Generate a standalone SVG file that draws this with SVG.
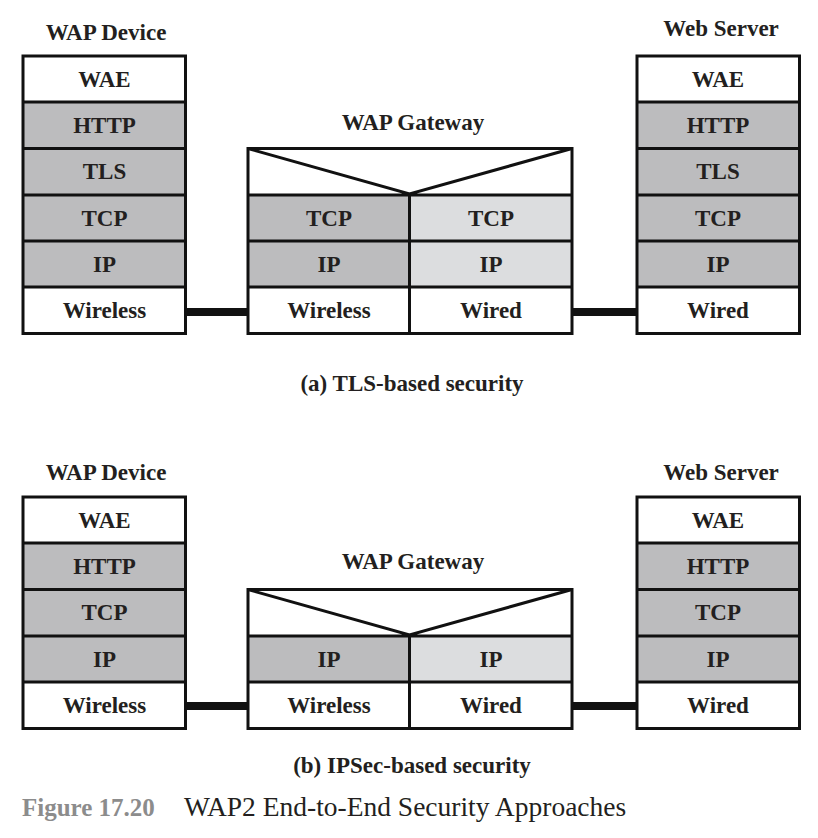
<svg xmlns="http://www.w3.org/2000/svg" width="818" height="838" viewBox="0 0 818 838">
<style>
.t{font-family:"Liberation Serif","Times New Roman",serif;font-weight:bold;font-size:23px;fill:#231f20;text-anchor:middle}
.dk{fill:#bcbcbe}
.lt{fill:#dcdddf}
.wh{fill:#ffffff}
.ln{stroke:#111;stroke-width:3;fill:none}
.cn{stroke:#111;stroke-width:8}
</style>
<rect width="818" height="838" fill="#fff"/>

<!-- (a) -->
<g id="a-device">
<text class="t" x="106" y="40">WAP Device</text>
<rect class="wh" x="23" y="56" width="162.5" height="46"/>
<rect class="dk" x="23" y="102" width="162.5" height="185"/>
<rect class="wh" x="23" y="287" width="162.5" height="46.5"/>
<rect class="ln" x="23" y="56" width="162.5" height="277.5"/>
<path class="ln" d="M23 102H185.5M23 148.5H185.5M23 195H185.5M23 241H185.5M23 287H185.5"/>
<text class="t" x="104.5" y="86.5">WAE</text>
<text class="t" x="104.5" y="133">HTTP</text>
<text class="t" x="104.5" y="179">TLS</text>
<text class="t" x="104.5" y="225.5">TCP</text>
<text class="t" x="104.5" y="271.5">IP</text>
<text class="t" x="104.5" y="318">Wireless</text>
</g>

<g id="a-gateway">
<text class="t" x="413" y="130">WAP Gateway</text>
<rect class="wh" x="248" y="148.5" width="324" height="46.5"/>
<rect class="dk" x="248" y="195" width="161.5" height="92"/>
<rect class="lt" x="409.5" y="195" width="162.5" height="92"/>
<rect class="wh" x="248" y="287" width="324" height="46.5"/>
<rect class="ln" x="248" y="148.5" width="324" height="185"/>
<path class="ln" d="M248 195H572M248 241H572M248 287H572M409.5 195V333.5M248 148.5L409.5 194L572 148.5"/>
<text class="t" x="329" y="225.5">TCP</text>
<text class="t" x="491" y="225.5">TCP</text>
<text class="t" x="329" y="271.5">IP</text>
<text class="t" x="491" y="271.5">IP</text>
<text class="t" x="329" y="318">Wireless</text>
<text class="t" x="491" y="318">Wired</text>
</g>

<g id="a-server">
<text class="t" x="721" y="36">Web Server</text>
<rect class="wh" x="637" y="56" width="162.5" height="46"/>
<rect class="dk" x="637" y="102" width="162.5" height="185"/>
<rect class="wh" x="637" y="287" width="162.5" height="46.5"/>
<rect class="ln" x="637" y="56" width="162.5" height="277.5"/>
<path class="ln" d="M637 102H799.5M637 148.5H799.5M637 195H799.5M637 241H799.5M637 287H799.5"/>
<text class="t" x="718" y="86.5">WAE</text>
<text class="t" x="718" y="133">HTTP</text>
<text class="t" x="718" y="179">TLS</text>
<text class="t" x="718" y="225.5">TCP</text>
<text class="t" x="718" y="271.5">IP</text>
<text class="t" x="718" y="318">Wired</text>
</g>

<text class="t" x="412" y="391">(a) TLS-based security</text>

<!-- (b) -->
<g id="b-device">
<text class="t" x="106" y="480">WAP Device</text>
<rect class="wh" x="23" y="497" width="162.5" height="46"/>
<rect class="dk" x="23" y="543" width="162.5" height="139"/>
<rect class="wh" x="23" y="682" width="162.5" height="46.5"/>
<rect class="ln" x="23" y="497" width="162.5" height="231.5"/>
<path class="ln" d="M23 543H185.5M23 589.5H185.5M23 636H185.5M23 682H185.5"/>
<text class="t" x="104.5" y="527.5">WAE</text>
<text class="t" x="104.5" y="574">HTTP</text>
<text class="t" x="104.5" y="620">TCP</text>
<text class="t" x="104.5" y="666.5">IP</text>
<text class="t" x="104.5" y="713">Wireless</text>
</g>

<g id="b-gateway">
<text class="t" x="413" y="569">WAP Gateway</text>
<rect class="wh" x="248" y="589.5" width="324" height="46.5"/>
<rect class="dk" x="248" y="636" width="161.5" height="46"/>
<rect class="lt" x="409.5" y="636" width="162.5" height="46"/>
<rect class="wh" x="248" y="682" width="324" height="46.5"/>
<rect class="ln" x="248" y="589.5" width="324" height="139"/>
<path class="ln" d="M248 636H572M248 682H572M409.5 636V728.5M248 589.5L409.5 635L572 589.5"/>
<text class="t" x="329" y="666.5">IP</text>
<text class="t" x="491" y="666.5">IP</text>
<text class="t" x="329" y="713">Wireless</text>
<text class="t" x="491" y="713">Wired</text>
</g>

<g id="b-server">
<text class="t" x="721" y="480">Web Server</text>
<rect class="wh" x="637" y="497" width="162.5" height="46"/>
<rect class="dk" x="637" y="543" width="162.5" height="139"/>
<rect class="wh" x="637" y="682" width="162.5" height="46.5"/>
<rect class="ln" x="637" y="497" width="162.5" height="231.5"/>
<path class="ln" d="M637 543H799.5M637 589.5H799.5M637 636H799.5M637 682H799.5"/>
<text class="t" x="718" y="527.5">WAE</text>
<text class="t" x="718" y="574">HTTP</text>
<text class="t" x="718" y="620">TCP</text>
<text class="t" x="718" y="666.5">IP</text>
<text class="t" x="718" y="713">Wired</text>
</g>

<text class="t" x="412" y="773">(b) IPSec-based security</text>

<g id="connectors">
<line class="cn" x1="185.5" y1="312" x2="248" y2="312"/>
<line class="cn" x1="572" y1="312" x2="637" y2="312"/>
<line class="cn" x1="185.5" y1="706" x2="248" y2="706"/>
<line class="cn" x1="572" y1="706" x2="637" y2="706"/>
</g>

<text x="22" y="816" font-family="'Liberation Serif','Times New Roman',serif" font-weight="bold" font-size="25" fill="#8c8c8c">Figure 17.20</text>
<text x="184" y="816" font-family="'Liberation Serif','Times New Roman',serif" font-size="27.5" fill="#231f20">WAP2 End-to-End Security Approaches</text>
</svg>
